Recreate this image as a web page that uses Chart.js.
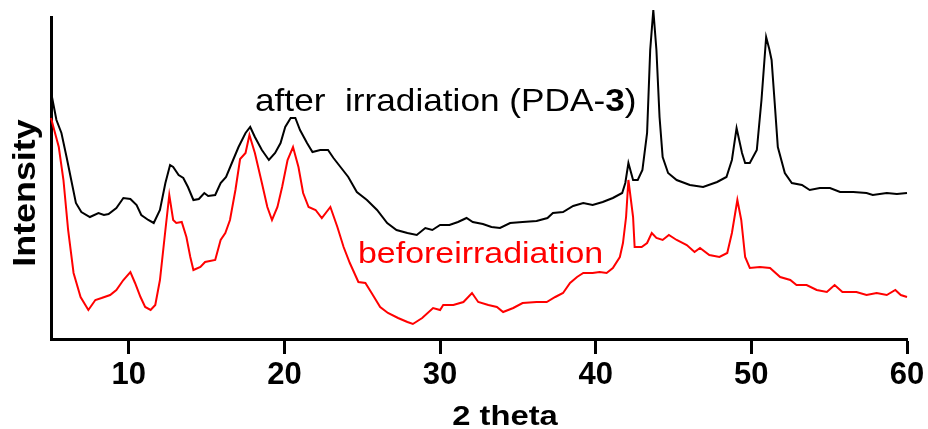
<!DOCTYPE html>
<html>
<head>
<meta charset="utf-8">
<script src="https://cdn.jsdelivr.net/npm/chart.js@4/dist/chart.umd.min.js"></script>
<style>
  html, body { margin: 0; padding: 0; background: #fff; }
  #wrap { width: 928px; height: 429px; }
</style>
</head>
<body>
<div id="wrap"><canvas id="c" width="928" height="429"></canvas></div>
<script>
// ---- data (2 theta in degrees, intensity in arbitrary units) ----
const xTicks = [10, 20, 30, 40, 50, 60];

const afterTheta = [5.0,5.35,5.67,6.0,6.3,6.6,6.95,7.5,8.05,8.4,8.7,9.2,9.65,10.1,10.5,10.8,11.25,11.6,12.0,12.35,12.65,12.85,13.2,13.5,13.8,14.15,14.5,14.85,15.1,15.55,15.9,16.25,16.7,17.05,17.5,17.8,18.1,18.55,19.0,19.4,19.75,20.05,20.4,20.7,21.0,21.45,21.8,22.3,22.8,23.15,23.6,24.1,24.65,25.3,25.95,26.6,27.2,27.9,28.5,29.05,29.5,30.0,30.6,31.15,31.7,32.1,32.75,33.3,33.85,34.5,35.3,36.2,36.9,37.25,37.9,38.55,39.2,39.8,40.45,41.1,41.7,41.9,42.1,42.4,42.7,43.0,43.3,43.5,43.7,43.9,44.1,44.3,44.65,45.2,46.05,46.9,47.8,48.4,48.75,49.05,49.4,49.6,49.9,50.35,50.65,50.95,51.15,51.3,51.5,51.7,52.15,52.6,53.25,53.75,54.4,55.05,55.7,56.55,57.4,57.8,58.7,59.35,60.0];
const afterIntensity = [247,219,206,182,159,136,127,122,126,124,125,131,141,140,134,124,119,116,129,156,174,172,164,161,152,139,140,146,143,144,156,162,179,192,206,212,202,189,179,186,196,212,221,221,209,196,187,189,189,181,172,162,147,139,129,116,109,106,104,111,109,114,114,117,121,117,115,112,111,116,117,118,121,126,127,133,136,134,137,141,146,156,176,159,159,169,206,289,329,289,222,182,166,159,154,152,157,162,179,211,186,176,176,189,239,302,290,279,236,192,166,156,154,149,151,151,147,147,146,144,146,145,146];

const beforeTheta = [5.0,5.5,5.8,6.1,6.45,6.9,7.4,7.85,8.25,8.8,9.2,9.65,10.1,10.4,10.75,11.05,11.4,11.7,12.0,12.35,12.6,12.85,13.05,13.4,13.7,13.95,14.15,14.6,14.9,15.55,15.9,16.2,16.5,16.85,17.15,17.5,17.75,18.1,18.55,18.9,19.2,19.55,19.85,20.2,20.55,20.9,21.2,21.55,22.0,22.4,22.95,23.4,23.8,24.2,24.75,25.2,25.6,26.15,26.65,27.3,27.9,28.25,28.85,29.55,30.0,30.2,30.85,31.5,32.05,32.45,33.1,33.65,34.05,34.7,35.3,36.2,36.85,37.4,37.9,38.35,38.8,39.2,39.8,40.25,40.7,41.1,41.55,41.75,41.95,42.1,42.4,42.5,42.95,43.3,43.6,43.9,44.3,44.7,45.2,45.85,46.35,46.7,47.3,47.95,48.45,48.75,49.1,49.35,49.6,49.9,50.55,51.2,51.85,52.5,52.9,53.55,54.2,54.85,55.35,55.85,56.75,57.4,58.05,58.7,59.25,59.6,60.0];
const beforeIntensity = [221,192,159,109,66,42,29,39,41,44,49,59,67,56,42,32,29,34,59,109,144,119,116,117,102,82,69,72,77,79,99,106,119,149,180,186,204,186,156,132,119,132,152,179,192,172,146,132,129,121,132,112,92,76,57,56,46,32,26,21,17,15,21,31,29,34,34,37,46,37,34,32,27,31,36,37,37,42,46,56,62,66,66,67,66,71,82,96,122,159,122,92,92,96,106,101,99,104,99,94,87,91,84,82,86,106,139,119,82,71,72,71,62,59,54,54,49,47,54,47,47,44,46,44,49,44,42];

const FONT = '"Liberation Sans", Arial, Helvetica, sans-serif';

function stretchedText(ctx, text, x, y, font, color, sx, align) {
  ctx.save();
  ctx.font = font;
  ctx.fillStyle = color;
  ctx.textBaseline = 'alphabetic';
  ctx.textAlign = align || 'left';
  ctx.translate(x, y);
  ctx.scale(sx, 1);
  ctx.fillText(text, 0, 0);
  ctx.restore();
}

const textPlugin = {
  id: 'texts',
  afterDraw(chart) {
    const ctx = chart.ctx;
    // y-axis title
    ctx.save();
    ctx.translate(35, 193);
    ctx.rotate(-Math.PI / 2);
    ctx.scale(1.12, 1);
    ctx.font = 'bold 32px ' + FONT;
    ctx.fillStyle = '#000';
    ctx.textAlign = 'center';
    ctx.textBaseline = 'alphabetic';
    ctx.fillText('Intensity', 0, 0);
    ctx.restore();

    // x-axis title
    stretchedText(ctx, '2 theta', 505, 425, 'bold 28px ' + FONT, '#000', 1.17, 'center');

    // after irradiation label, with bold "3"
    ctx.save();
    const sx = 1.1;
    ctx.translate(255, 111);
    ctx.scale(sx, 1);
    ctx.fillStyle = '#000';
    ctx.textBaseline = 'alphabetic';
    ctx.textAlign = 'left';
    let cx = 0;
    const parts = [['after  irradiation (PDA-', 'normal'], ['3', 'bold'], [')', 'normal']];
    for (const [t, w] of parts) {
      ctx.font = w + ' 32px ' + FONT;
      ctx.fillText(t, cx, 0);
      cx += ctx.measureText(t).width;
    }
    ctx.restore();

    // before irradiation label
    stretchedText(ctx, 'beforeirradiation', 358, 263, '29px ' + FONT, '#ff0000', 1.17, 'left');
  }
};

const toPoints = (xs, ys) => xs.map((x, i) => ({ x: x, y: ys[i] }));

new Chart(document.getElementById('c'), {
  type: 'line',
  data: {
    datasets: [
      {
        label: 'after irradiation (PDA-3)',
        data: toPoints(afterTheta, afterIntensity),
        borderColor: '#000000',
        borderWidth: 2,
        pointRadius: 0,
        tension: 0,
        fill: false,
        clip: false
      },
      {
        label: 'before irradiation',
        data: toPoints(beforeTheta, beforeIntensity),
        borderColor: '#ff0000',
        borderWidth: 2,
        pointRadius: 0,
        tension: 0,
        fill: false,
        clip: false
      }
    ]
  },
  options: {
    responsive: false,
    animation: false,
    devicePixelRatio: 1,
    layout: { padding: { left: 51, top: 17, right: 21, bottom: 0 } },
    plugins: {
      legend: { display: false },
      tooltip: { enabled: false },
      title: { display: false }
    },
    scales: {
      x: {
        type: 'linear',
        min: 5,
        max: 60,
        afterBuildTicks: (scale) => { scale.ticks = xTicks.map(v => ({ value: v })); },
        afterFit: (scale) => { scale.height = 90; },
        grid: {
          display: true,
          drawOnChartArea: false,
          drawTicks: true,
          tickLength: 15,
          tickWidth: 3,
          tickColor: '#000'
        },
        border: { display: true, width: 3, color: '#000' },
        ticks: {
          color: '#000',
          font: { family: FONT, size: 31, weight: 'bold' },
          padding: 3,
          maxRotation: 0,
          autoSkip: false
        }
      },
      y: {
        type: 'linear',
        min: 0,
        max: 322,
        afterFit: (scale) => { scale.width = 0; },
        grid: { display: false, drawTicks: false },
        border: { display: true, width: 3, color: '#000' },
        ticks: { display: false }
      }
    }
  },
  plugins: [textPlugin]
});
</script>
</body>
</html>
